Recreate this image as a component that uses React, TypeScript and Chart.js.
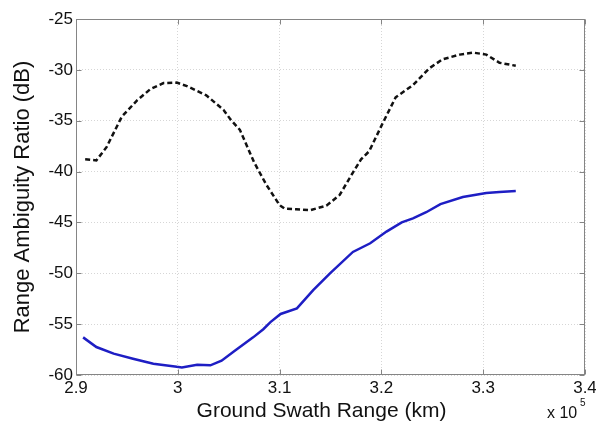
import React, { useEffect, useRef } from 'react';
import { Chart, registerables } from 'chart.js';

Chart.register(...registerables);

// x values in units of 1e5 km
const xTickValues = [2.9, 3.0, 3.1, 3.2, 3.3, 3.4];
const yTickValues = [-60, -55, -50, -45, -40, -35, -30, -25];

const dashedX = [2.909, 2.920, 2.930, 2.945, 2.960, 2.973, 2.986, 2.999, 3.009, 3.028, 3.045, 3.052, 3.061, 3.075, 3.087, 3.100, 3.105, 3.116, 3.130, 3.146, 3.159, 3.172, 3.180, 3.188, 3.201, 3.214, 3.231, 3.247, 3.260, 3.277, 3.290, 3.303, 3.316, 3.332];
const dashedY = [-38.8, -38.9, -37.6, -34.6, -33.0, -31.9, -31.3, -31.25, -31.6, -32.5, -33.95, -34.9, -35.9, -39.1, -41.3, -43.3, -43.65, -43.7, -43.8, -43.35, -42.3, -40.1, -38.8, -38.0, -35.3, -32.7, -31.5, -29.85, -28.97, -28.5, -28.3, -28.5, -29.3, -29.6];

const solidX = [2.907, 2.920, 2.937, 2.956, 2.976, 2.999, 3.004, 3.019, 3.032, 3.043, 3.055, 3.074, 3.084, 3.091, 3.101, 3.117, 3.133, 3.1495, 3.172, 3.189, 3.205, 3.220, 3.231, 3.244, 3.258, 3.280, 3.303, 3.316, 3.332];
const solidY = [-56.3, -57.25, -57.9, -58.4, -58.9, -59.2, -59.25, -59.0, -59.05, -58.6, -57.7, -56.3, -55.5, -54.8, -54.0, -53.45, -51.65, -50.0, -47.9, -47.05, -45.9, -45.0, -44.6, -44.0, -43.2, -42.5, -42.1, -42.0, -41.9];

const xTitle = 'Ground Swath Range (km)';
const yTitle = 'Range Ambiguity Ratio (dB)';
const xExponentBase = 'x 10';
const xExponent = '5';

const FONT = '"Liberation Sans", Arial, Helvetica, sans-serif';

const framePlugin = {
  id: 'matlabFrame',
  afterDraw(chart: any) {
    const { ctx, chartArea: a, scales } = chart;
    ctx.save();
    ctx.strokeStyle = '#858585';
    ctx.lineWidth = 1;
    const L = Math.round(a.left) + 0.5;
    const R = Math.round(a.right) - 0.5;
    const T = Math.round(a.top) + 0.5;
    const B = Math.round(a.bottom) - 0.5;
    ctx.strokeRect(L, T, R - L, B - T);
    ctx.beginPath();
    for (const v of xTickValues) {
      const px = Math.round(scales.x.getPixelForValue(v)) + 0.5;
      ctx.moveTo(px, B); ctx.lineTo(px, B - 5);
      ctx.moveTo(px, T); ctx.lineTo(px, T + 5);
    }
    for (const v of yTickValues) {
      const py = Math.round(scales.y.getPixelForValue(v)) + 0.5;
      ctx.moveTo(L, py); ctx.lineTo(L + 5, py);
      ctx.moveTo(R, py); ctx.lineTo(R - 5, py);
    }
    ctx.stroke();
    ctx.fillStyle = '#111';
    // x-axis title (MATLAB places it slightly left of the axes centre)
    ctx.textAlign = 'center';
    ctx.textBaseline = 'middle';
    ctx.font = `21px ${FONT}`;
    ctx.fillText(xTitle, (a.left + a.right) / 2 - 9, 411);
    ctx.textBaseline = 'alphabetic';
    ctx.textAlign = 'left';
    ctx.font = `16px ${FONT}`;
    ctx.fillText(xExponentBase, a.right - 38, 418);
    ctx.font = `10px ${FONT}`;
    ctx.fillText(xExponent, a.right - 5, 406);
    ctx.restore();
  },
};

export default function App() {
  const ref = useRef<HTMLCanvasElement | null>(null);

  useEffect(() => {
    document.body.style.margin = '0';
    const canvas = ref.current;
    if (!canvas) return;
    const chart = new Chart(canvas, {
      type: 'line',
      data: {
        datasets: [
          {
            label: 'dashed',
            data: dashedX.map((x, i) => ({ x, y: dashedY[i] })),
            borderColor: '#111111',
            borderWidth: 2.5,
            borderDash: [5, 3],
            pointRadius: 0,
            tension: 0,
            fill: false,
          },
          {
            label: 'solid',
            data: solidX.map((x, i) => ({ x, y: solidY[i] })),
            borderColor: '#1e1ec4',
            borderWidth: 2.5,
            pointRadius: 0,
            tension: 0,
            fill: false,
          },
        ],
      },
      options: {
        animation: false,
        responsive: true,
        maintainAspectRatio: false,
        layout: { padding: { top: 19, right: 11, bottom: 0, left: 0 } },
        plugins: { legend: { display: false }, tooltip: { enabled: false } },
        scales: {
          x: {
            type: 'linear',
            min: 2.9,
            max: 3.4,
            afterBuildTicks: (s: any) => { s.ticks = xTickValues.map((value) => ({ value })); },
            afterFit: (s: any) => { s.height = 49; s.paddingLeft = 0; s.paddingRight = 0; },
            ticks: {
              color: '#111',
              font: { family: FONT, size: 17 },
              padding: 3,
              maxRotation: 0,
              callback: (v: any) => String(Math.round(Number(v) * 10) / 10),
            },
            grid: { color: 'rgba(0,0,0,0.16)', drawTicks: false, lineWidth: 1 },
            border: { display: false, dash: [1, 2] },
            title: { display: false },
          },
          y: {
            type: 'linear',
            min: -60,
            max: -25,
            afterBuildTicks: (s: any) => { s.ticks = yTickValues.map((value) => ({ value })); },
            afterFit: (s: any) => { s.width = 76; s.paddingTop = 0; s.paddingBottom = 0; },
            ticks: {
              color: '#111',
              font: { family: FONT, size: 17 },
              padding: 3,
            },
            grid: { color: 'rgba(0,0,0,0.16)', drawTicks: false, lineWidth: 1 },
            border: { display: false, dash: [1, 2] },
            title: {
              display: true,
              text: yTitle,
              color: '#111',
              font: { family: FONT, size: 22 },
              padding: { top: 10, bottom: 0 },
            },
          },
        },
      },
      plugins: [framePlugin],
    } as any);
    return () => chart.destroy();
  }, []);

  return (
    <div style={{ width: 596, height: 424, position: 'relative', background: '#fff' }}>
      <canvas ref={ref} />
    </div>
  );
}
